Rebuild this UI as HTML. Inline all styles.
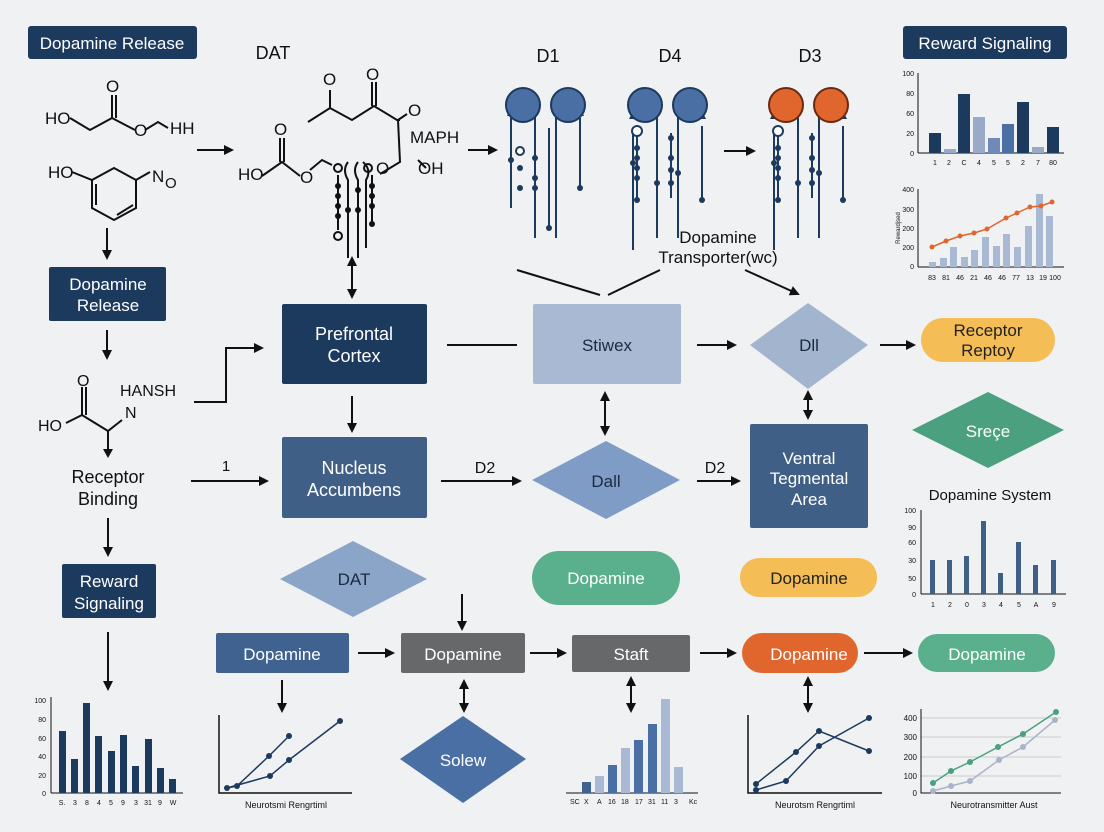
<!DOCTYPE html>
<html><head><meta charset="utf-8"><style>
html,body{margin:0;padding:0;background:#f0f1f2;}
svg{display:block;font-family:"Liberation Sans",sans-serif;}
</style></head><body>
<svg width="1104" height="832" viewBox="0 0 1104 832" xmlns="http://www.w3.org/2000/svg">
<defs>
<marker id="a" markerWidth="10" markerHeight="10" refX="8" refY="5" orient="auto" markerUnits="userSpaceOnUse"><path d="M0,0 L10,5 L0,10 z" fill="#111"/></marker>
<marker id="s" markerWidth="10" markerHeight="10" refX="2" refY="5" orient="auto" markerUnits="userSpaceOnUse"><path d="M10,0 L0,5 L10,10 z" fill="#111"/></marker>
<g id="rp">
<g stroke="#1c3a5e" stroke-width="2" fill="none">
<path d="M0,17 L12,30 L12,150 M45,17 L33,30 L33,150 M-12,40 L-12,162 M-8,45 L-8,112 M26,45 L26,110 M57,38 L57,112"/>
<circle cx="-8" cy="43" r="5" fill="#fff"/>
</g>
<g fill="#1c3a5e">
<path d="M-12,23 l-4,8 h8 z"/><path d="M57,23 l-4,8 h8 z"/>
<circle cx="-8" cy="60" r="3"/><circle cx="-8" cy="70" r="3"/><circle cx="-8" cy="80" r="3"/><circle cx="-8" cy="90" r="3"/><circle cx="-12" cy="75" r="3"/><circle cx="12" cy="95" r="3"/><circle cx="26" cy="50" r="3"/><circle cx="26" cy="70" r="3"/><circle cx="26" cy="82" r="3"/><circle cx="26" cy="95" r="3"/><circle cx="33" cy="85" r="3"/><circle cx="57" cy="112" r="3"/><circle cx="-8" cy="112" r="3"/>
</g>
</g>
</defs>
<rect width="1104" height="832" fill="#f0f1f2"/>

<!-- top labels -->
<rect x="28" y="26" width="169" height="33" rx="3" fill="#1c3a5e"/>
<text x="112" y="49" font-size="17" fill="#fff" text-anchor="middle">Dopamine Release</text>
<text x="273" y="59" font-size="18" fill="#111" text-anchor="middle">DAT</text>
<text x="548" y="62" font-size="18" fill="#111" text-anchor="middle">D1</text>
<text x="670" y="62" font-size="18" fill="#111" text-anchor="middle">D4</text>
<text x="810" y="62" font-size="18" fill="#111" text-anchor="middle">D3</text>
<rect x="903" y="26" width="164" height="33" rx="3" fill="#1c3a5e"/>
<text x="985" y="49" font-size="17" fill="#fff" text-anchor="middle">Reward Signaling</text>

<!-- molecule 1 -->
<g stroke="#111" stroke-width="2" fill="none">
<path d="M70,118 L90,130 L112,118 L135,130 M112,118 L112,95 M116,118 L116,95 M145,130 L158,122 L168,128"/>
<path d="M72,172 L92,180 L114,168 L136,180 L150,172 M92,180 L92,208 L114,220 L136,208 L136,180 M96,184 L96,205 M117,215 L133,205"/>
</g>
<g font-size="17" fill="#111">
<text x="45" y="124">HO</text><text x="106" y="92">O</text><text x="134" y="136">O</text><text x="170" y="134">HH</text>
<text x="48" y="178">HO</text><text x="152" y="182">N</text><text x="165" y="188" font-size="15">O</text>
</g>
<line x1="197" y1="150" x2="232" y2="150" stroke="#111" stroke-width="2" marker-end="url(#a)"/>

<!-- molecule 2 -->
<g stroke="#111" stroke-width="2" fill="none">
<path d="M308,122 L330,108 L352,120 L374,106 L397,120 L400,120 M330,108 L330,90 M372,106 L372,82 M376,106 L376,82 M398,120 L407,114 M398,120 L400,162 L380,174"/>
<path d="M262,176 L282,162 L300,176 M280,162 L280,138 M284,162 L284,138 M310,170 L322,160 L332,165"/>
<path d="M348,162 Q342,170 348,180 L348,258 M358,162 Q352,170 358,180 L358,258 M363,162 Q372,170 366,180 L366,248"/>
<path d="M338,175 L338,230 M372,175 L372,224"/>
<path d="M418,160 L426,168"/>
</g>
<g fill="#111">
<circle cx="338" cy="186" r="3"/><circle cx="338" cy="196" r="3"/><circle cx="338" cy="206" r="3"/><circle cx="338" cy="216" r="3"/><circle cx="348" cy="210" r="3"/><circle cx="358" cy="190" r="3"/><circle cx="358" cy="210" r="3"/><circle cx="372" cy="186" r="3"/><circle cx="372" cy="196" r="3"/><circle cx="372" cy="206" r="3"/><circle cx="372" cy="224" r="3"/>
</g>
<g stroke="#111" stroke-width="2" fill="none"><circle cx="338" cy="236" r="4"/><circle cx="338" cy="168" r="4"/><circle cx="368" cy="168" r="4"/></g>
<g font-size="17" fill="#111">
<text x="323" y="85">O</text><text x="366" y="80">O</text><text x="408" y="116">O</text><text x="274" y="135">O</text>
<text x="238" y="180">HO</text><text x="300" y="183">O</text><text x="376" y="174">O</text><text x="410" y="143">MAPH</text><text x="418" y="174">OH</text>
</g>
<line x1="468" y1="150" x2="496" y2="150" stroke="#111" stroke-width="2" marker-end="url(#a)"/>

<!-- receptors -->
<g transform="translate(523,88)">
<g stroke="#1c3a5e" stroke-width="2" fill="none"><path d="M0,17 L12,30 L12,150 M45,17 L33,30 L33,150 M-12,30 L-12,120 M26,40 L26,140 M57,30 L57,100"/><circle cx="-3" cy="63" r="4" fill="#fff"/></g>
<g fill="#1c3a5e"><circle cx="-12" cy="72" r="3"/><circle cx="12" cy="70" r="3"/><circle cx="12" cy="90" r="3"/><circle cx="12" cy="100" r="3"/><circle cx="26" cy="140" r="3"/><circle cx="57" cy="100" r="3"/><circle cx="-3" cy="80" r="3"/><circle cx="-3" cy="100" r="3"/><path d="M-12,20 l-4,8 h8 z"/><path d="M57,20 l-4,8 h8 z"/></g>
<circle cx="0" cy="17" r="17" fill="#4a6fa5" stroke="#1c3a5e" stroke-width="2"/>
<circle cx="45" cy="17" r="17" fill="#4a6fa5" stroke="#1c3a5e" stroke-width="2"/>
</g>
<use href="#rp" transform="translate(645,88)"/>
<circle cx="645" cy="105" r="17" fill="#4a6fa5" stroke="#1c3a5e" stroke-width="2"/>
<circle cx="690" cy="105" r="17" fill="#4a6fa5" stroke="#1c3a5e" stroke-width="2"/>
<use href="#rp" transform="translate(786,88)"/>
<circle cx="786" cy="105" r="17" fill="#e0662e" stroke="#6a2a10" stroke-width="2"/>
<circle cx="831" cy="105" r="17" fill="#e0662e" stroke="#6a2a10" stroke-width="2"/>
<line x1="724" y1="151" x2="754" y2="151" stroke="#111" stroke-width="2" marker-end="url(#a)"/>

<!-- top-right charts -->
<g font-size="7" fill="#111">
<line x1="918" y1="73" x2="918" y2="153" stroke="#111"/><line x1="918" y1="153" x2="1064" y2="153" stroke="#111"/>
<text x="914" y="76" text-anchor="end">100</text><text x="914" y="96" text-anchor="end">80</text><text x="914" y="116" text-anchor="end">60</text><text x="914" y="136" text-anchor="end">20</text><text x="914" y="156" text-anchor="end">0</text>
<rect x="929" y="133" width="12" height="20" fill="#1c3a5e"/><rect x="944" y="149" width="12" height="4" fill="#9aa9c8"/><rect x="958" y="94" width="12" height="59" fill="#1c3a5e"/><rect x="973" y="117" width="12" height="36" fill="#9aa9c8"/><rect x="988" y="138" width="12" height="15" fill="#6f8ab8"/><rect x="1002" y="124" width="12" height="29" fill="#4a6fa5"/><rect x="1017" y="102" width="12" height="51" fill="#1c3a5e"/><rect x="1032" y="147" width="12" height="6" fill="#9aa9c8"/><rect x="1047" y="127" width="12" height="26" fill="#1c3a5e"/>
<text x="935" y="165" text-anchor="middle">1</text><text x="949" y="165" text-anchor="middle">2</text><text x="964" y="165" text-anchor="middle">C</text><text x="979" y="165" text-anchor="middle">4</text><text x="994" y="165" text-anchor="middle">5</text><text x="1008" y="165" text-anchor="middle">5</text><text x="1023" y="165" text-anchor="middle">2</text><text x="1038" y="165" text-anchor="middle">7</text><text x="1053" y="165" text-anchor="middle">80</text>

<line x1="918" y1="189" x2="918" y2="267" stroke="#111"/><line x1="918" y1="267" x2="1064" y2="267" stroke="#111"/>
<text x="914" y="192" text-anchor="end">400</text><text x="914" y="212" text-anchor="end">300</text><text x="914" y="231" text-anchor="end">200</text><text x="914" y="250" text-anchor="end">200</text><text x="914" y="269" text-anchor="end">0</text>
<text x="900" y="228" transform="rotate(-90 900 228)" text-anchor="middle" font-size="6">Rewardjsed</text>
<g fill="#a9b9d4">
<rect x="929" y="262" width="7" height="5"/><rect x="940" y="258" width="7" height="9"/><rect x="950" y="247" width="7" height="20"/><rect x="961" y="257" width="7" height="10"/><rect x="971" y="250" width="7" height="17"/><rect x="982" y="237" width="7" height="30"/><rect x="993" y="246" width="7" height="21"/><rect x="1003" y="234" width="7" height="33"/><rect x="1014" y="247" width="7" height="20"/><rect x="1025" y="226" width="7" height="41"/><rect x="1036" y="194" width="7" height="73"/><rect x="1046" y="216" width="7" height="51"/>
</g>
<polyline points="932,247 946,241 960,236 974,233 987,229 1006,218 1017,213 1030,207 1041,206 1052,202" fill="none" stroke="#e0662e" stroke-width="1.5"/>
<g fill="#e0662e"><circle cx="932" cy="247" r="2.5"/><circle cx="946" cy="241" r="2.5"/><circle cx="960" cy="236" r="2.5"/><circle cx="974" cy="233" r="2.5"/><circle cx="987" cy="229" r="2.5"/><circle cx="1006" cy="218" r="2.5"/><circle cx="1017" cy="213" r="2.5"/><circle cx="1030" cy="207" r="2.5"/><circle cx="1041" cy="206" r="2.5"/><circle cx="1052" cy="202" r="2.5"/></g>
<text x="932" y="280" text-anchor="middle">83</text><text x="946" y="280" text-anchor="middle">81</text><text x="960" y="280" text-anchor="middle">46</text><text x="974" y="280" text-anchor="middle">21</text><text x="988" y="280" text-anchor="middle">46</text><text x="1002" y="280" text-anchor="middle">46</text><text x="1016" y="280" text-anchor="middle">77</text><text x="1030" y="280" text-anchor="middle">13</text><text x="1043" y="280" text-anchor="middle">19</text><text x="1055" y="280" text-anchor="middle">100</text>
</g>

<!-- Dopamine transporter -->
<text x="718" y="243" font-size="17" fill="#111" text-anchor="middle">Dopamine</text>
<text x="718" y="263" font-size="17" fill="#111" text-anchor="middle">Transporter(wc)</text>
<g stroke="#111" stroke-width="2"><line x1="517" y1="270" x2="600" y2="295"/><line x1="660" y1="270" x2="608" y2="295"/></g>
<line x1="745" y1="270" x2="798" y2="294" stroke="#111" stroke-width="2" marker-end="url(#a)"/>

<!-- left column -->
<line x1="107" y1="228" x2="107" y2="258" stroke="#111" stroke-width="2" marker-end="url(#a)"/>
<rect x="49" y="267" width="117" height="54" rx="2" fill="#1c3a5e"/>
<text x="108" y="290" font-size="17" fill="#fff" text-anchor="middle">Dopamine</text>
<text x="108" y="311" font-size="17" fill="#fff" text-anchor="middle">Release</text>
<line x1="107" y1="330" x2="107" y2="358" stroke="#111" stroke-width="2" marker-end="url(#a)"/>
<g stroke="#111" stroke-width="2" fill="none"><path d="M66,423 L82,415 L108,431 L122,420 M82,415 L82,387 M86,415 L86,387 M108,431 L108,455"/></g>
<path d="M103,449 l5,9 l5,-9 z" fill="#111"/>
<g font-size="16" fill="#111"><text x="77" y="386">O</text><text x="120" y="396">HANSH</text><text x="125" y="418">N</text><text x="38" y="431">HO</text></g>
<text x="108" y="483" font-size="18" fill="#111" text-anchor="middle">Receptor</text>
<text x="108" y="505" font-size="18" fill="#111" text-anchor="middle">Binding</text>
<line x1="108" y1="518" x2="108" y2="555" stroke="#111" stroke-width="2" marker-end="url(#a)"/>
<rect x="62" y="564" width="94" height="54" rx="2" fill="#1c3a5e"/>
<text x="109" y="587" font-size="17" fill="#fff" text-anchor="middle">Reward</text>
<text x="109" y="609" font-size="17" fill="#fff" text-anchor="middle">Signaling</text>
<line x1="108" y1="632" x2="108" y2="689" stroke="#111" stroke-width="2" marker-end="url(#a)"/>

<!-- bottom-left bar chart -->
<g font-size="7" fill="#111">
<line x1="51" y1="697" x2="51" y2="793" stroke="#111"/><line x1="51" y1="793" x2="183" y2="793" stroke="#111"/>
<text x="46" y="703" text-anchor="end">100</text><text x="46" y="722" text-anchor="end">80</text><text x="46" y="741" text-anchor="end">60</text><text x="46" y="759" text-anchor="end">40</text><text x="46" y="778" text-anchor="end">20</text><text x="46" y="796" text-anchor="end">0</text>
<g fill="#1c3a5e"><rect x="59" y="731" width="7" height="62"/><rect x="71" y="759" width="7" height="34"/><rect x="83" y="703" width="7" height="90"/><rect x="95" y="736" width="7" height="57"/><rect x="108" y="751" width="7" height="42"/><rect x="120" y="735" width="7" height="58"/><rect x="132" y="766" width="7" height="27"/><rect x="145" y="739" width="7" height="54"/><rect x="157" y="768" width="7" height="25"/><rect x="169" y="779" width="7" height="14"/></g>
<text x="62" y="805" text-anchor="middle">S.</text><text x="75" y="805" text-anchor="middle">3</text><text x="87" y="805" text-anchor="middle">8</text><text x="99" y="805" text-anchor="middle">4</text><text x="111" y="805" text-anchor="middle">5</text><text x="123" y="805" text-anchor="middle">9</text><text x="136" y="805" text-anchor="middle">3</text><text x="148" y="805" text-anchor="middle">31</text><text x="160" y="805" text-anchor="middle">9</text><text x="173" y="805" text-anchor="middle">W</text>
</g>

<!-- Prefrontal row -->
<line x1="352" y1="258" x2="352" y2="297" stroke="#111" stroke-width="2" marker-start="url(#s)" marker-end="url(#a)"/>
<polyline points="194,402 226,402 226,348 262,348" fill="none" stroke="#111" stroke-width="2" marker-end="url(#a)"/>
<rect x="282" y="304" width="145" height="80" rx="2" fill="#1c3a5e"/>
<text x="354" y="340" font-size="18" fill="#fff" text-anchor="middle">Prefrontal</text>
<text x="354" y="362" font-size="18" fill="#fff" text-anchor="middle">Cortex</text>
<line x1="447" y1="345" x2="517" y2="345" stroke="#111" stroke-width="2"/>
<rect x="533" y="304" width="148" height="80" rx="2" fill="#a9b9d4"/>
<text x="607" y="351" font-size="17" fill="#1c2a40" text-anchor="middle">Stiwex</text>
<line x1="697" y1="345" x2="735" y2="345" stroke="#111" stroke-width="2" marker-end="url(#a)"/>
<polygon points="750,345 808,303 868,345 808,389" fill="#a3b4cf"/>
<text x="809" y="351" font-size="17" fill="#1c2a40" text-anchor="middle">Dll</text>
<line x1="880" y1="345" x2="914" y2="345" stroke="#111" stroke-width="2" marker-end="url(#a)"/>
<rect x="921" y="318" width="134" height="44" rx="22" fill="#f4bd56"/>
<text x="988" y="336" font-size="17" fill="#222" text-anchor="middle">Receptor</text>
<text x="988" y="356" font-size="17" fill="#222" text-anchor="middle">Reptoy</text>

<line x1="352" y1="396" x2="352" y2="431" stroke="#111" stroke-width="2" marker-end="url(#a)"/>
<line x1="605" y1="393" x2="605" y2="434" stroke="#111" stroke-width="2" marker-start="url(#s)" marker-end="url(#a)"/>
<line x1="808" y1="392" x2="808" y2="418" stroke="#111" stroke-width="2" marker-start="url(#s)" marker-end="url(#a)"/>
<polygon points="912,430 988,392 1064,430 988,468" fill="#4aa07f"/>
<text x="988" y="437" font-size="17" fill="#fff" text-anchor="middle">Sreçe</text>

<!-- Nucleus row -->
<text x="226" y="471" font-size="15" fill="#111" text-anchor="middle">1</text>
<line x1="191" y1="481" x2="267" y2="481" stroke="#111" stroke-width="2" marker-end="url(#a)"/>
<rect x="282" y="437" width="145" height="81" rx="2" fill="#3f5f86"/>
<text x="354" y="474" font-size="18" fill="#fff" text-anchor="middle">Nucleus</text>
<text x="354" y="496" font-size="18" fill="#fff" text-anchor="middle">Accumbens</text>
<text x="485" y="473" font-size="16" fill="#111" text-anchor="middle">D2</text>
<line x1="441" y1="481" x2="520" y2="481" stroke="#111" stroke-width="2" marker-end="url(#a)"/>
<polygon points="532,480 606,441 680,480 606,519" fill="#7f9cc7"/>
<text x="606" y="487" font-size="17" fill="#1c2a40" text-anchor="middle">Dall</text>
<text x="715" y="473" font-size="16" fill="#111" text-anchor="middle">D2</text>
<line x1="697" y1="481" x2="739" y2="481" stroke="#111" stroke-width="2" marker-end="url(#a)"/>
<rect x="750" y="424" width="118" height="104" rx="2" fill="#3f5f86"/>
<text x="809" y="464" font-size="17" fill="#fff" text-anchor="middle">Ventral</text>
<text x="809" y="484" font-size="17" fill="#fff" text-anchor="middle">Tegmental</text>
<text x="809" y="505" font-size="17" fill="#fff" text-anchor="middle">Area</text>

<!-- Dopamine system chart -->
<text x="990" y="500" font-size="15" fill="#111" text-anchor="middle">Dopamine System</text>
<g font-size="7" fill="#111">
<line x1="921" y1="510" x2="921" y2="594" stroke="#111"/><line x1="921" y1="594" x2="1066" y2="594" stroke="#111"/>
<text x="916" y="513" text-anchor="end">100</text><text x="916" y="530" text-anchor="end">90</text><text x="916" y="545" text-anchor="end">60</text><text x="916" y="563" text-anchor="end">30</text><text x="916" y="581" text-anchor="end">50</text><text x="916" y="597" text-anchor="end">0</text>
<g fill="#3f5f86"><rect x="930" y="560" width="5" height="34"/><rect x="947" y="560" width="5" height="34"/><rect x="964" y="556" width="5" height="38"/><rect x="981" y="521" width="5" height="73"/><rect x="998" y="573" width="5" height="21"/><rect x="1016" y="542" width="5" height="52"/><rect x="1033" y="565" width="5" height="29"/><rect x="1051" y="560" width="5" height="34"/></g>
<text x="933" y="607" text-anchor="middle">1</text><text x="950" y="607" text-anchor="middle">2</text><text x="967" y="607" text-anchor="middle">0</text><text x="984" y="607" text-anchor="middle">3</text><text x="1001" y="607" text-anchor="middle">4</text><text x="1019" y="607" text-anchor="middle">5</text><text x="1036" y="607" text-anchor="middle">A</text><text x="1054" y="607" text-anchor="middle">9</text>
</g>

<!-- middle lower row -->
<polygon points="280,579 353,541 427,579 353,617" fill="#8aa5c8"/>
<text x="354" y="585" font-size="17" fill="#1c2a40" text-anchor="middle">DAT</text>
<rect x="532" y="551" width="148" height="54" rx="27" fill="#5aaf8c"/>
<text x="606" y="584" font-size="17" fill="#fff" text-anchor="middle">Dopamine</text>
<rect x="740" y="558" width="137" height="39" rx="19" fill="#f4bd56"/>
<text x="809" y="584" font-size="17" fill="#222" text-anchor="middle">Dopamine</text>
<line x1="462" y1="594" x2="462" y2="629" stroke="#111" stroke-width="2" marker-end="url(#a)"/>

<!-- bottom row -->
<rect x="216" y="633" width="133" height="40" rx="2" fill="#3f6290"/>
<text x="282" y="660" font-size="17" fill="#fff" text-anchor="middle">Dopamine</text>
<line x1="358" y1="653" x2="393" y2="653" stroke="#111" stroke-width="2" marker-end="url(#a)"/>
<rect x="401" y="633" width="124" height="40" rx="2" fill="#666869"/>
<text x="463" y="660" font-size="17" fill="#fff" text-anchor="middle">Dopamine</text>
<line x1="530" y1="653" x2="565" y2="653" stroke="#111" stroke-width="2" marker-end="url(#a)"/>
<rect x="572" y="635" width="118" height="37" rx="2" fill="#666869"/>
<text x="631" y="660" font-size="17" fill="#fff" text-anchor="middle">Staft</text>
<line x1="700" y1="653" x2="735" y2="653" stroke="#111" stroke-width="2" marker-end="url(#a)"/>
<rect x="742" y="633" width="116" height="40" rx="20" fill="#e0662e"/>
<text x="809" y="660" font-size="17" fill="#fff" text-anchor="middle">Dopamine</text>
<line x1="864" y1="653" x2="911" y2="653" stroke="#111" stroke-width="2" marker-end="url(#a)"/>
<rect x="918" y="634" width="137" height="38" rx="19" fill="#5aaf8c"/>
<text x="987" y="660" font-size="17" fill="#fff" text-anchor="middle">Dopamine</text>

<line x1="282" y1="680" x2="282" y2="711" stroke="#111" stroke-width="2" marker-end="url(#a)"/>
<line x1="464" y1="681" x2="464" y2="711" stroke="#111" stroke-width="2" marker-start="url(#s)" marker-end="url(#a)"/>
<line x1="631" y1="678" x2="631" y2="711" stroke="#111" stroke-width="2" marker-start="url(#s)" marker-end="url(#a)"/>
<line x1="808" y1="678" x2="808" y2="711" stroke="#111" stroke-width="2" marker-start="url(#s)" marker-end="url(#a)"/>
<polygon points="400,759 463,716 526,759 463,803" fill="#4a6fa5"/>
<text x="463" y="766" font-size="17" fill="#fff" text-anchor="middle">Solew</text>

<!-- line chart 1 -->
<g stroke="#1c3a5e" stroke-width="1.5" fill="none">
<polyline points="219,715 219,793 352,793" stroke="#111"/>
<polyline points="227,788 237,786 269,756 289,736"/>
<polyline points="227,788 270,776 289,760 340,721"/>
</g>
<g fill="#1c3a5e"><circle cx="227" cy="788" r="3"/><circle cx="237" cy="786" r="3"/><circle cx="269" cy="756" r="3"/><circle cx="289" cy="736" r="3"/><circle cx="270" cy="776" r="3"/><circle cx="289" cy="760" r="3"/><circle cx="340" cy="721" r="3"/></g>
<text x="286" y="808" font-size="9" fill="#111" text-anchor="middle">Neurotsmi Rengrtiml</text>

<!-- bar chart middle -->
<line x1="566" y1="793" x2="698" y2="793" stroke="#111"/>
<rect x="582" y="782" width="9" height="11" fill="#3f6290"/><rect x="595" y="776" width="9" height="17" fill="#a9b9d4"/><rect x="608" y="765" width="9" height="28" fill="#4a6fa5"/><rect x="621" y="748" width="9" height="45" fill="#a9b9d4"/><rect x="634" y="740" width="9" height="53" fill="#4a6fa5"/><rect x="648" y="724" width="9" height="69" fill="#4a6fa5"/><rect x="661" y="699" width="9" height="94" fill="#a9b9d4"/><rect x="674" y="767" width="9" height="26" fill="#a9b9d4"/>
<g font-size="7" fill="#111"><text x="570" y="804">SC</text><text x="584" y="804">X</text><text x="597" y="804">A</text><text x="608" y="804">16</text><text x="621" y="804">18</text><text x="635" y="804">17</text><text x="648" y="804">31</text><text x="661" y="804">11</text><text x="674" y="804">3</text><text x="689" y="804">Kc</text></g>

<!-- line chart 3 -->
<g stroke="#1c3a5e" stroke-width="1.5" fill="none">
<polyline points="748,715 748,793 882,793" stroke="#111"/>
<polyline points="756,784 796,752 819,731 869,751"/>
<polyline points="756,790 786,781 819,746 869,718"/>
</g>
<g fill="#1c3a5e"><circle cx="756" cy="784" r="3"/><circle cx="796" cy="752" r="3"/><circle cx="819" cy="731" r="3"/><circle cx="869" cy="751" r="3"/><circle cx="756" cy="790" r="3"/><circle cx="786" cy="781" r="3"/><circle cx="819" cy="746" r="3"/><circle cx="869" cy="718" r="3"/></g>
<text x="815" y="808" font-size="9" fill="#111" text-anchor="middle">Neurotsm Rengrtiml</text>

<!-- line chart 4 -->
<g stroke="#ccc" stroke-width="1"><line x1="921" y1="718" x2="1061" y2="718"/><line x1="921" y1="737" x2="1061" y2="737"/><line x1="921" y1="757" x2="1061" y2="757"/><line x1="921" y1="776" x2="1061" y2="776"/></g>
<polyline points="921,709 921,793 1061,793" stroke="#111" fill="none"/>
<g font-size="8" fill="#111" text-anchor="end"><text x="917" y="721">400</text><text x="917" y="740">300</text><text x="917" y="760">200</text><text x="917" y="779">100</text><text x="917" y="796">0</text></g>
<polyline points="933,783 951,771 970,762 998,747 1023,734 1056,712" fill="none" stroke="#4aa07f" stroke-width="1.5"/>
<polyline points="933,791 951,786 970,781 999,760 1023,747 1055,720" fill="none" stroke="#a9b4c8" stroke-width="1.5"/>
<g fill="#4aa07f"><circle cx="933" cy="783" r="3"/><circle cx="951" cy="771" r="3"/><circle cx="970" cy="762" r="3"/><circle cx="998" cy="747" r="3"/><circle cx="1023" cy="734" r="3"/><circle cx="1056" cy="712" r="3"/></g>
<g fill="#a9b4c8"><circle cx="933" cy="791" r="3"/><circle cx="951" cy="786" r="3"/><circle cx="970" cy="781" r="3"/><circle cx="999" cy="760" r="3"/><circle cx="1023" cy="747" r="3"/><circle cx="1055" cy="720" r="3"/></g>
<text x="994" y="808" font-size="9" fill="#111" text-anchor="middle">Neurotransmitter Aust</text>
</svg>
</body></html>
